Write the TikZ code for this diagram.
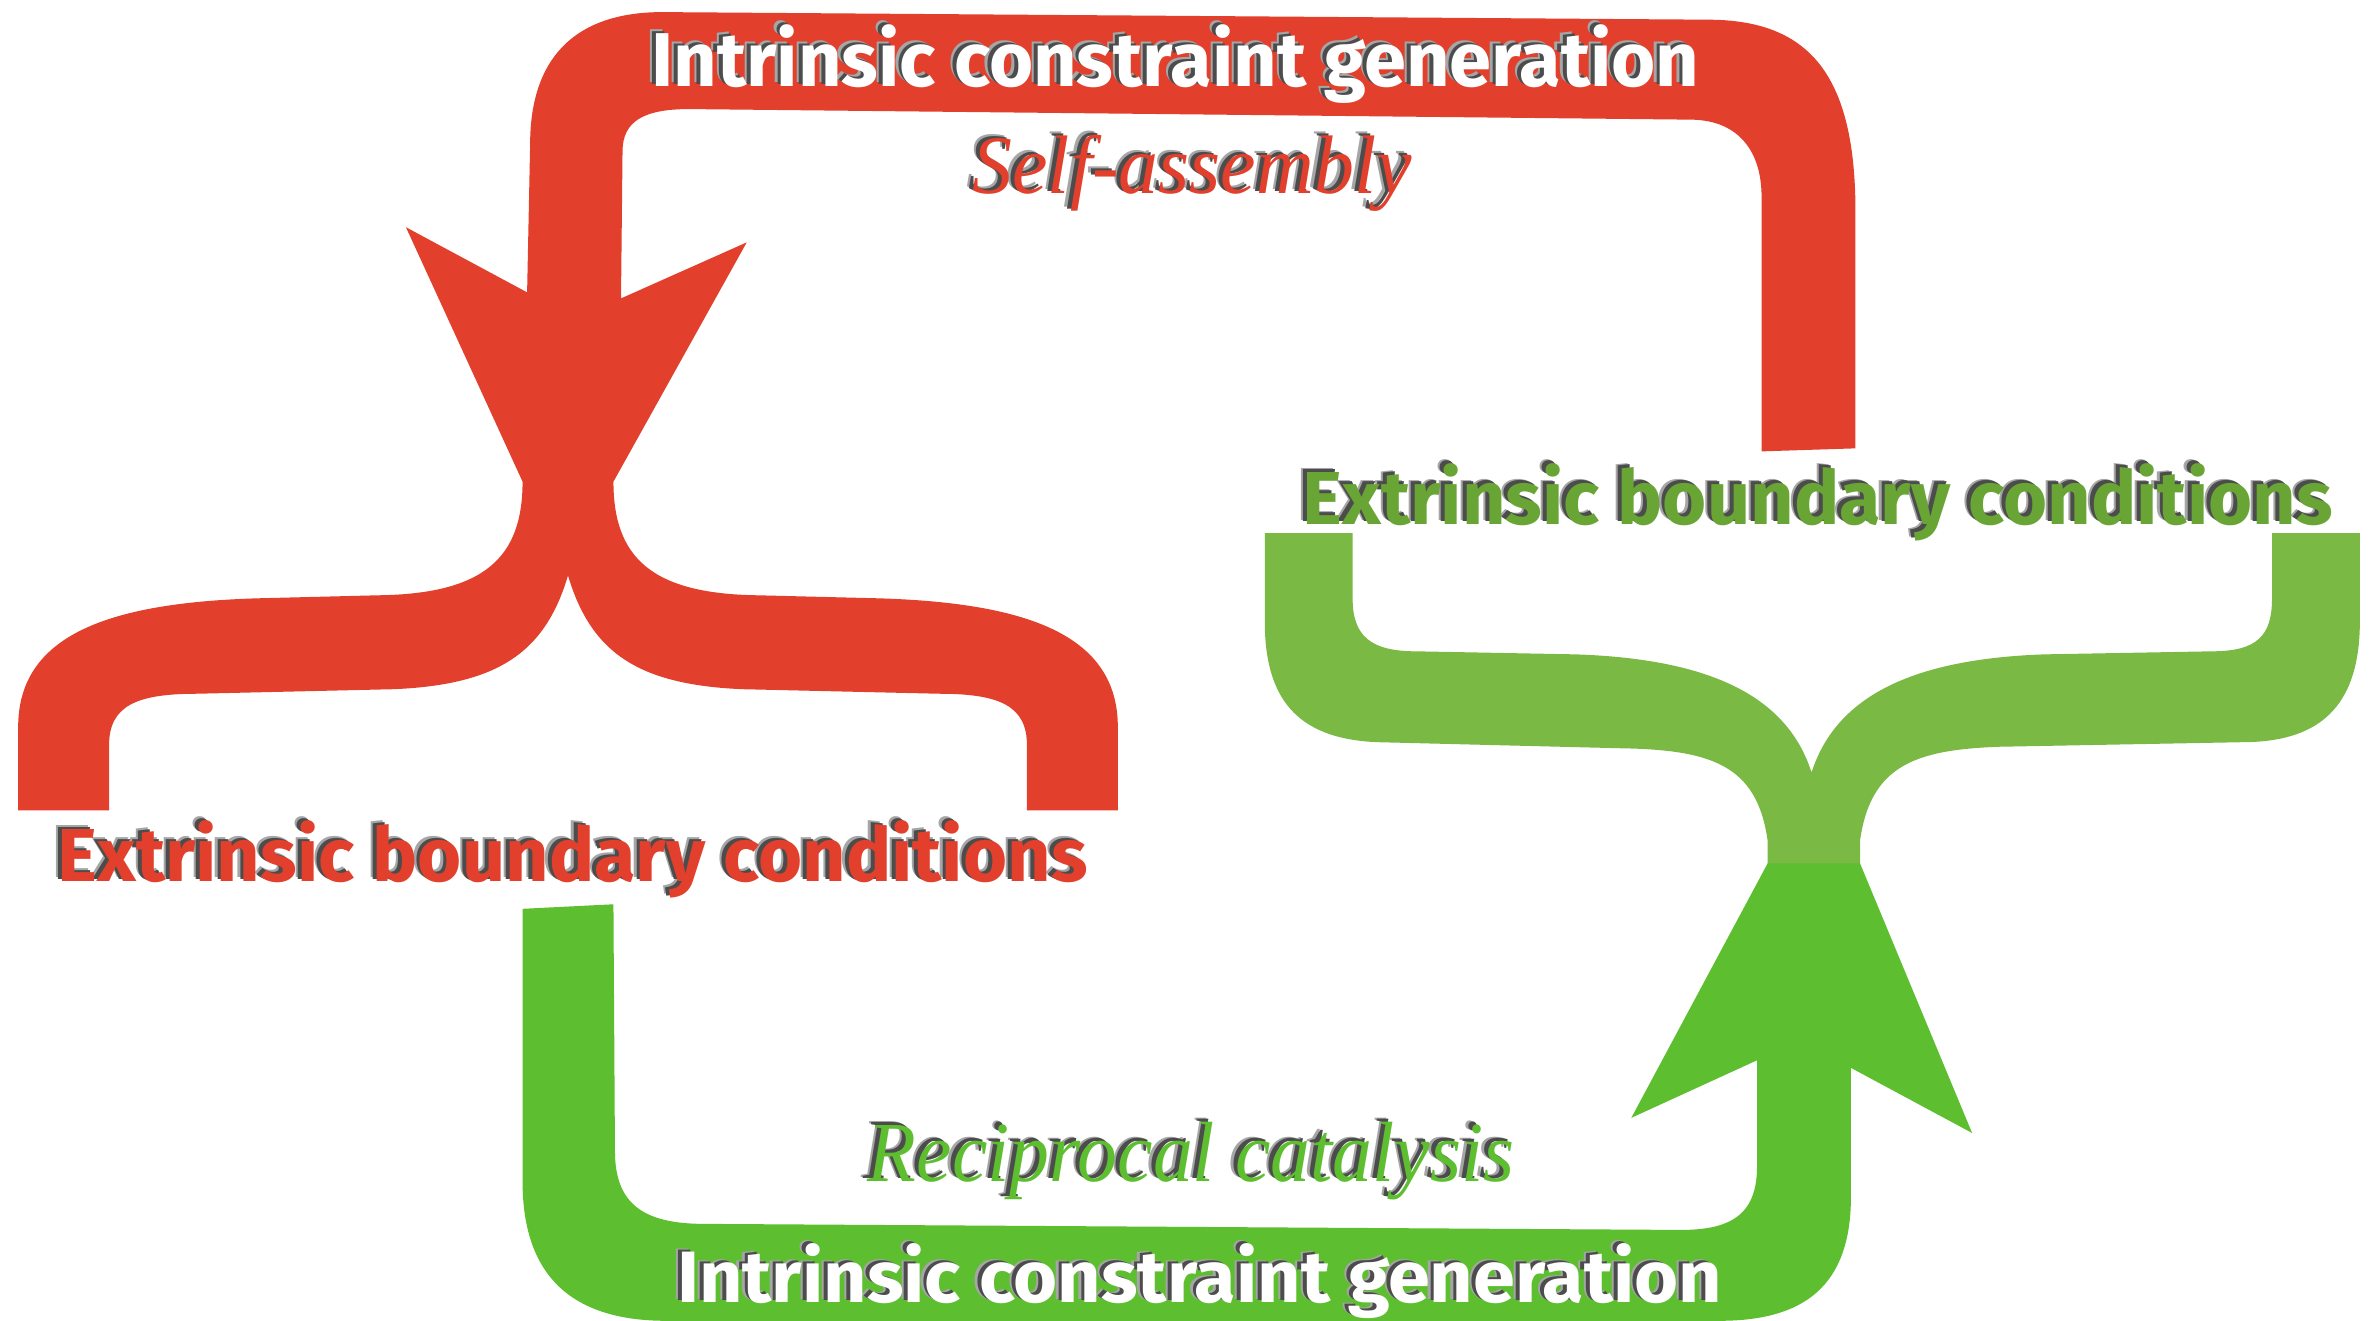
\documentclass[tikz,border=0pt]{standalone}
\usepackage{fontspec}
\usepackage{graphicx}
\newfontfamily\bsans{Fira Sans}
\newfontfamily\iserif{Liberation Serif}[ItalicFont={Liberation Serif Italic}]
\definecolor{cred}{HTML}{E2402C}
\definecolor{cbrace}{HTML}{7AB943}
\definecolor{carrow}{HTML}{5DBF2F}
\definecolor{cgtext}{HTML}{68A535}
\tikzset{
  lbl/.style={anchor=base west, inner sep=0pt, outer sep=0pt},
}
% text with a soft dark shadow up and to the left: #1 colour, #2 text
\newcommand\shadowed[2]{%
  \makebox[0pt][l]{\kern-0.8pt\raisebox{0.5pt}{\color{black!35}#2}}%
  \makebox[0pt][l]{\kern-0.5pt\raisebox{0.3pt}{\color{black!70}#2}}%
  {\color{#1}#2}}
\begin{document}
\begin{tikzpicture}[x=0.15mm,y=-0.15mm]
\useasboundingbox (0,0) rectangle (1568,872);
\fill[white] (0,0) rectangle (1568,872);

% red loop, arrowhead and brace
\fill[cred] (1163,298) -- (1225,296) -- (1225,140)
  .. controls (1225,50) and (1195,14) .. (1130,13)
  -- (440,8)
  .. controls (378,7) and (350,40) .. (350,95)
  -- (348,193) -- (268,150) -- (345,318)
  .. controls (345,368) and (320,392) .. (250,393)
  -- (170,395)
  .. controls (70,398) and (12,420) .. (12,480)
  -- (12,535) -- (72,535) -- (72,492)
  .. controls (72,466) and (90,458) .. (130,458)
  -- (260,455)
  .. controls (330,452) and (360,430) .. (375,380)
  .. controls (390,430) and (420,452) .. (490,455)
  -- (620,458)
  .. controls (660,458) and (678,466) .. (678,492)
  -- (678,535) -- (738,535) -- (738,480)
  .. controls (738,420) and (680,398) .. (580,395)
  -- (500,393)
  .. controls (430,392) and (405,368) .. (405,318)
  -- (493,160) -- (410,197) -- (411,100)
  .. controls (411,80) and (425,72) .. (455,72)
  -- (1118,79)
  .. controls (1148,80) and (1163,100) .. (1163,130)
  -- cycle;

% light green brace
\fill[cbrace] (1167,571) -- (1167,555)
  .. controls (1160,505) and (1130,495) .. (1070,494)
  -- (910,490)
  .. controls (855,488) and (835,460) .. (835,410)
  -- (835,352) -- (893,352) -- (893,395)
  .. controls (893,420) and (905,430) .. (935,430)
  -- (1040,432)
  .. controls (1130,435) and (1180,460) .. (1196,510)
  .. controls (1212,460) and (1262,435) .. (1350,432)
  -- (1460,430)
  .. controls (1490,430) and (1500,420) .. (1500,395)
  -- (1500,352) -- (1558,352) -- (1558,410)
  .. controls (1558,468) and (1530,490) .. (1480,490)
  -- (1320,493)
  .. controls (1265,495) and (1235,505) .. (1228,555)
  -- (1228,571) -- cycle;

% bright green arrowhead and loop
\fill[carrow] (1167,570) -- (1228,570) -- (1302,748) -- (1222,705)
  -- (1222,790)
  .. controls (1222,850) and (1190,872) .. (1135,872)
  -- (440,872)
  .. controls (375,872) and (345,840) .. (345,780)
  -- (345,600) -- (405,597) -- (406,760)
  .. controls (406,795) and (425,808) .. (465,808)
  -- (1110,812)
  .. controls (1145,812) and (1160,800) .. (1160,770)
  -- (1160,700) -- (1077,738) -- cycle;

% texts
\node[lbl] (ictop) at (430,57) {\resizebox{103.8mm}{6.5mm}{\bsans\bfseries\shadowed{white}{Intrinsic constraint generation}}};
\node[lbl] (self) at (642,128) {\resizebox{43.5mm}{6.2mm}{\iserif\itshape\shadowed{cred}{Self-assembly}}};
\node[lbl] (ebcred) at (38,582) {\resizebox{102mm}{6.4mm}{\bsans\bfseries\shadowed{cred}{Extrinsic boundary conditions}}};
\node[lbl] (ebcgreen) at (860,346) {\resizebox{102mm}{6.4mm}{\bsans\bfseries\shadowed{cgtext}{Extrinsic boundary conditions}}};
\node[lbl] (recip) at (573,780) {\resizebox{64mm}{6.3mm}{\iserif\itshape\shadowed{carrow}{Reciprocal catalysis}}};
\node[lbl] (icbot) at (447,860) {\resizebox{103.5mm}{6.2mm}{\bsans\bfseries\shadowed{white}{Intrinsic constraint generation}}};
\end{tikzpicture}
\end{document}
